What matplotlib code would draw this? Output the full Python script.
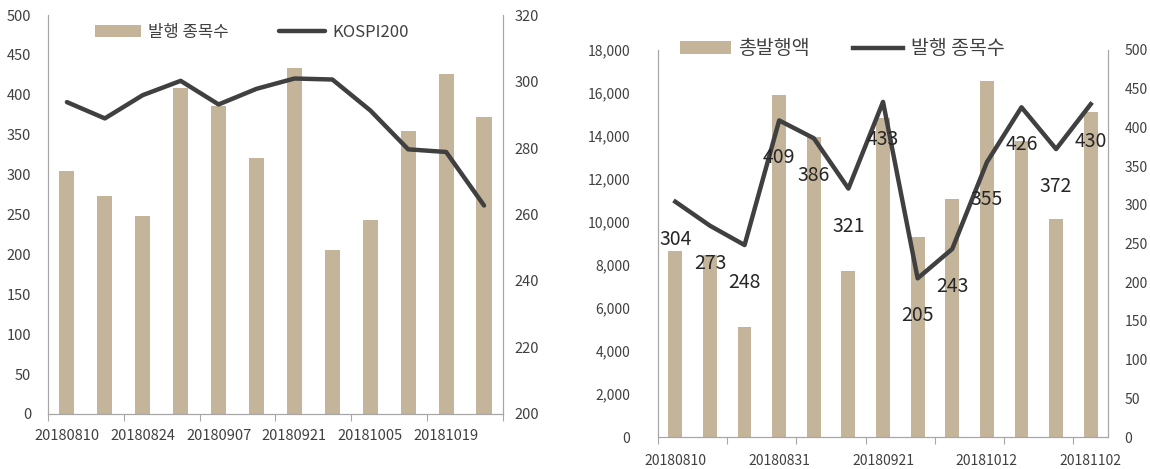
import numpy as np
import matplotlib
matplotlib.use("Agg")
import matplotlib.pyplot as plt

plt.rcParams['font.family'] = ['Noto Sans CJK KR', 'DejaVu Sans']

# weekly dates
dates = ['20180810', '20180817', '20180824', '20180831', '20180907', '20180914',
         '20180921', '20180928', '20181005', '20181012', '20181019', '20181026',
         '20181102']

# number of issues per week
issues = [304, 273, 248, 409, 386, 321, 433, 205, 243, 355, 426, 372, 430]

# KOSPI200 (left chart, first 12 weeks)
kospi = [293.8, 288.9, 295.9, 300.2, 293.1, 297.8, 300.9, 300.6, 291.3, 279.6, 278.8, 262.7]

# total issue amount (right chart)
amount = [8660, 8450, 5100, 15920, 13960, 7730, 14820, 9310, 11060, 16570, 13770, 10130, 15100]

bar_c = '#C4B49A'
line_c = '#404040'
axis_c = '#A6A6A6'
text_c = '#404040'

fig = plt.figure(figsize=(11.5, 4.69), dpi=100)

# ---------------- left chart ----------------
n1 = 12
x1 = np.arange(n1)
ax1 = fig.add_axes([0.0417, 0.1173, 0.3957, 0.8507])
ax1b = ax1.twinx()
ax1.bar(x1, issues[:n1], width=0.4, color=bar_c, label='발행 종목수', zorder=1)
ax1b.plot(x1, kospi, color=line_c, lw=3.2, label='KOSPI200', solid_capstyle='round')
ax1.set_xlim(-0.5, n1 - 0.5)
ax1.set_ylim(0, 500)
ax1.set_yticks(np.arange(0, 501, 50))
ax1b.set_ylim(200, 320)
ax1b.set_yticks(np.arange(200, 321, 20))
ax1.set_xticks(np.arange(-0.5, n1, 2))
ax1.set_xticklabels([])
ax1.set_xticks(x1[::2], minor=True)
ax1.set_xticklabels([dates[i] for i in x1[::2]], minor=True)

# ---------------- right chart ----------------
n2 = 13
x2 = np.arange(n2)
ax2 = fig.add_axes([0.5722, 0.0682, 0.3913, 0.8252])
ax2b = ax2.twinx()
ax2.bar(x2, amount, width=0.4, color=bar_c, label='총발행액', zorder=1)
ax2b.plot(x2, issues, color=line_c, lw=3.2, label='발행 종목수')
for xi, v in zip(x2, issues):
    ax2b.annotate(str(v), (xi, v), xytext=(0, -27), textcoords='offset points',
                  ha='center', va='center', fontsize=14, color='#262626')
ax2.set_xlim(-0.5, n2 - 0.5)
ax2.set_ylim(0, 18000)
ax2.set_yticks(np.arange(0, 18001, 2000))
ax2.set_yticklabels([f'{v:,}' for v in range(0, 18001, 2000)])
ax2b.set_ylim(0, 500)
ax2b.set_yticks(np.arange(0, 501, 50))
ax2.set_xticks(np.arange(-0.5, n2 - 1, 2))
ax2.set_xticklabels([])
ax2.set_xticks(x2[::3], minor=True)
ax2.set_xticklabels([dates[i] for i in x2[::3]], minor=True)

# shared styling
for a, b in [(ax1, ax1b), (ax2, ax2b)]:
    for ax in (a, b):
        ax.spines['top'].set_visible(False)
        for s in ('left', 'right', 'bottom'):
            ax.spines[s].set_color(axis_c)
        ax.tick_params(axis='y', length=0, colors=text_c, labelsize=10.5)
    a.tick_params(axis='x', which='major', length=5, color=axis_c, direction='out')
    a.tick_params(axis='x', which='minor', length=0, colors=text_c, labelsize=10.5, pad=11)
    a.set_zorder(b.get_zorder() - 1)
    a.patch.set_visible(False)
    b.patch.set_visible(False)

ax1.tick_params(axis='y', pad=12)
ax1b.tick_params(axis='y', pad=8)
ax2.tick_params(axis='y', labelsize=10, pad=20)
ax2b.tick_params(axis='y', labelsize=10, pad=12)
ax2.tick_params(axis='x', which='minor', labelsize=10, pad=12)

# legends
h1, l1 = ax1.get_legend_handles_labels()
h2, l2 = ax1b.get_legend_handles_labels()
ax1.legend(h1 + h2, l1 + l2, ncol=2, frameon=False, loc='upper left',
           bbox_to_anchor=(0.07, 1.015), fontsize=12, handlelength=2.8,
           handletextpad=0.4, columnspacing=3.0, labelcolor=text_c)

h1, l1 = ax2.get_legend_handles_labels()
h2, l2 = ax2b.get_legend_handles_labels()
ax2.legend(h1 + h2, l1 + l2, ncol=2, frameon=False, loc='upper left',
           bbox_to_anchor=(0.01, 1.075), fontsize=14, handlelength=2.6,
           handletextpad=0.4, columnspacing=2.2, labelcolor=text_c)

fig.savefig('out.png', dpi=100)
